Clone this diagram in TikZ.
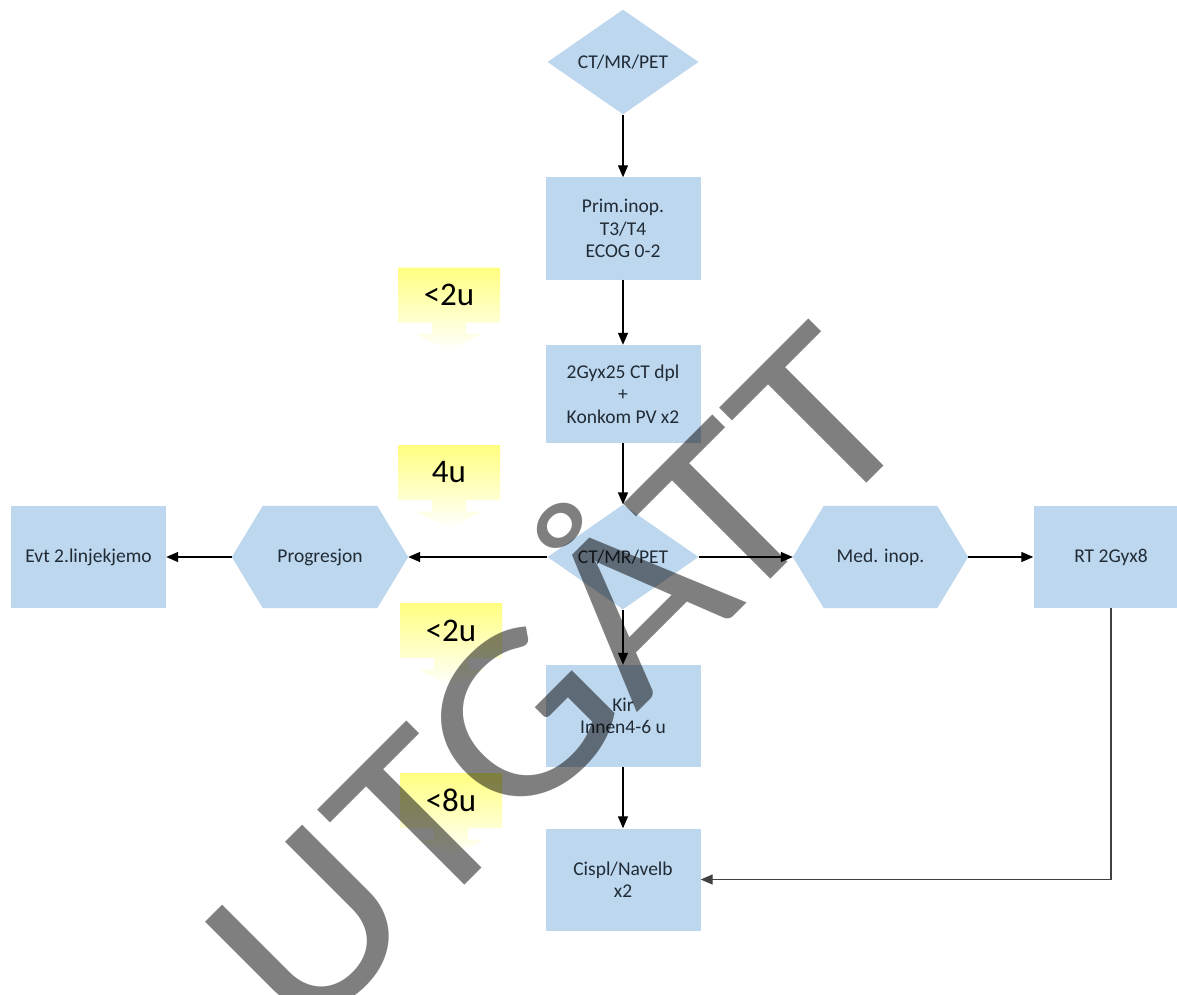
\documentclass[tikz,border=0pt]{standalone}
\usepackage{fontspec}
\setmainfont{Carlito}
\usetikzlibrary{arrows.meta,shapes.geometric}

\definecolor{boxblue}{RGB}{189,215,238}
\definecolor{calloutyellow}{RGB}{255,255,128}
\definecolor{boxtext}{RGB}{33,43,54}

\pgfdeclarelayer{bg}
\pgfsetlayers{bg,main}

\begin{document}
\begin{tikzpicture}[x=1pt,y=-1pt,
  every node/.style={font=\fontsize{19.5}{22.5}\selectfont, text=boxtext},
  box/.style={rectangle, fill=boxblue, minimum width=155pt, minimum height=102pt,
              align=center, inner sep=2pt},
  dia/.style={diamond, fill=boxblue, minimum width=151pt, minimum height=99pt,
              inner sep=0pt},
  hexa/.style={rectangle, minimum width=176pt, minimum height=102pt, inner sep=0pt},
  conn/.style={draw=black, line width=1.3pt, -{Triangle[length=12pt,width=10pt]}},
  calltext/.style={font=\fontsize{33}{35}\selectfont, text=black, inner sep=0pt},
  callout/.pic={
    \shade[top color=calloutyellow, middle color=calloutyellow!80!white,
           bottom color=white]
      (-51,-27.5) -- (51,-27.5) -- (51,27.5) -- (17,27.5) -- (17,39) -- (33,39)
      -- (0,56) -- (-33,39) -- (-17,39) -- (-17,27.5) -- (-51,27.5) -- cycle;
    \node[calltext] (-t) at (0,0) {#1};
  },
  stamptext/.style={font=\fontsize{245}{245}\selectfont, text=black,
               text opacity=0.5, inner sep=0pt},
]
\useasboundingbox (0,0) rectangle (1177,995);

% central column
\node[dia] (scan1) at (623,62) {CT/MR/PET};
\node[box] (prim)  at (623,228.5) {Prim.inop.\\T3/T4\\ECOG 0-2};
\node[box, minimum height=98pt] (rt25) at (623,394) {2Gyx25 CT dpl\\+\\Konkom PV x2};
\node[dia] (scan2) at (623,557) {CT/MR/PET};
\node[box] (kir)   at (623,716) {Kir\\Innen4-6 u};
\node[box] (cis)   at (623,879.5) {Cispl/Navelb\\x2};

% side row
\node[hexa] (prog) at (320,557) {Progresjon};
\node[box]  (evt)  at (88.5,557) {Evt 2.linjekjemo};
\node[hexa, minimum width=175pt] (med) at (880.5,557) {Med. inop.};
\node[box]  (rt8)  at (1111,557) {RT 2Gyx8};

\begin{pgfonlayer}{bg}
  \foreach \h in {prog,med}{
    \fill[boxblue] (\h.west) -- ([xshift=31pt]\h.north west)
      -- ([xshift=-31pt]\h.north east) -- (\h.east)
      -- ([xshift=-31pt]\h.south east) -- ([xshift=31pt]\h.south west) -- cycle;
  }
\end{pgfonlayer}

% time callouts
\pic (wait1) at (449,295) {callout={<2u}};
\pic (wait2) at (449,472.5) {callout={4u}};
\pic (wait3) at (451,630.5) {callout={<2u}};
\pic (wait4) at (451,800.5) {callout={<8u}};

% connectors
\draw[conn] (scan1.south) -- (prim.north);
\draw[conn] (prim.south) -- (rt25.north);
\draw[conn] (rt25.south) -- (scan2.north);
\draw[conn] (scan2.east) -- (med.west);
\draw[conn] (med.east) -- (rt8.west);
\draw[conn] (scan2.west) -- (prog.east);
\draw[conn] (prog.west) -- (evt.east);
\draw[conn] (scan2.south) -- (kir.north);
\draw[conn] (kir.south) -- (cis.north);
\draw[conn, draw=black!75] (rt8.south) |- (cis.east);

% watermark, stretched along its baseline
\node[stamptext, rotate=45, xscale=1.11, anchor=base west] (stamp) at (303,1047) {UTGÅTT};
\end{tikzpicture}
\end{document}
